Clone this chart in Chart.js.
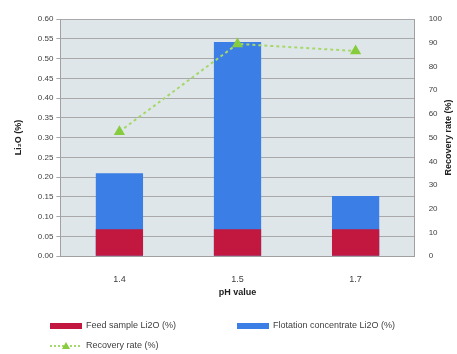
<!DOCTYPE html>
<html>
<head>
<meta charset="utf-8">
<script src="https://cdn.jsdelivr.net/npm/chart.js@4/dist/chart.umd.min.js"></script>
<style>
  html, body { margin: 0; padding: 0; background: #ffffff; }
  #wrap { position: relative; width: 457px; height: 354px; }
</style>
</head>
<body>
<div id="wrap"><canvas id="c" width="457" height="354"></canvas></div>
<script>
// pH values on the x axis
const phValues = ['1.4', '1.5', '1.7'];
// Li2O grade of the feed sample (%)
const feedLi2O = [0.068, 0.068, 0.068];
// Li2O grade of the flotation concentrate (%)
const concentrateLi2O = [0.21, 0.542, 0.152];
// Recovery rate (%)
const recoveryRate = [52.5, 89.5, 86.5];

const FONT = 'Liberation Sans';
const TEXT = '#404040';

// Light plot background behind the grid
const plotBackground = {
  id: 'plotBackground',
  beforeDraw(chart) {
    const { ctx, chartArea: a } = chart;
    ctx.save();
    ctx.fillStyle = '#dfe6e9';
    ctx.fillRect(a.left, a.top, a.right - a.left, a.bottom - a.top);
    ctx.restore();
  }
};

// x-axis title, secondary axis title (reads bottom to top) and the two-row legend
const extras = {
  id: 'extras',
  afterDraw(chart) {
    const { ctx, chartArea: a } = chart;
    const ds = chart.data.datasets;
    ctx.save();
    ctx.fillStyle = '#202020';
    ctx.font = 'bold 9px ' + FONT;
    ctx.textAlign = 'center';
    ctx.textBaseline = 'middle';
    ctx.fillText('pH value', (a.left + a.right) / 2, 293);
    ctx.translate(449, (a.top + a.bottom) / 2);
    ctx.rotate(-Math.PI / 2);
    ctx.fillText('Recovery rate (%)', 0, 0);
    ctx.restore();

    ctx.save();
    ctx.font = '9px ' + FONT;
    ctx.textBaseline = 'middle';
    ctx.fillStyle = TEXT;
    const items = [
      { ds: ds[0], x: 50, y: 326 },
      { ds: ds[1], x: 237, y: 326 },
      { ds: ds[2], x: 50, y: 346 }
    ];
    items.forEach(it => {
      const d = it.ds;
      if (d.type === 'line') {
        ctx.strokeStyle = d.borderColor;
        ctx.lineWidth = 2;
        ctx.setLineDash([2, 2]);
        ctx.beginPath();
        ctx.moveTo(it.x, it.y);
        ctx.lineTo(it.x + 32, it.y);
        ctx.stroke();
        ctx.setLineDash([]);
        ctx.fillStyle = d.pointBackgroundColor;
        const cx = it.x + 16, cy = it.y;
        ctx.beginPath();
        ctx.moveTo(cx, cy - 4);
        ctx.lineTo(cx + 4, cy + 3);
        ctx.lineTo(cx - 4, cy + 3);
        ctx.closePath();
        ctx.fill();
      } else {
        ctx.fillStyle = d.backgroundColor;
        ctx.fillRect(it.x, it.y - 3, 32, 6);
      }
      ctx.fillStyle = TEXT;
      ctx.fillText(d.label, it.x + 36, it.y);
    });
    ctx.restore();
  }
};

new Chart(document.getElementById('c'), {
  data: {
    labels: phValues,
    datasets: [
      {
        type: 'bar',
        label: 'Feed sample Li2O (%)',
        data: feedLi2O,
        backgroundColor: '#c2183f',
        yAxisID: 'y',
        categoryPercentage: 1,
        barPercentage: 0.4,
        order: 1
      },
      {
        type: 'bar',
        label: 'Flotation concentrate Li2O (%)',
        data: concentrateLi2O,
        backgroundColor: '#3b7ee6',
        yAxisID: 'y',
        categoryPercentage: 1,
        barPercentage: 0.4,
        order: 2
      },
      {
        type: 'line',
        label: 'Recovery rate (%)',
        data: recoveryRate,
        borderColor: '#a5d86a',
        borderWidth: 2,
        borderDash: [3, 3],
        pointStyle: 'triangle',
        pointRadius: 4.5,
        pointBackgroundColor: '#86cc3e',
        pointBorderColor: '#86cc3e',
        yAxisID: 'y1',
        order: 0
      }
    ]
  },
  options: {
    responsive: false,
    animation: false,
    layout: { padding: { left: 9, right: 9, top: 19, bottom: 59 } },
    plugins: { legend: { display: false }, tooltip: { enabled: false } },
    scales: {
      x: {
        stacked: true,
        grid: { display: false },
        border: { color: '#a0a0a0' },
        ticks: { color: TEXT, font: { family: FONT, size: 9 }, padding: 10 }
      },
      y: {
        position: 'left',
        stacked: false,
        min: 0,
        max: 0.6,
        grid: { color: '#a9a9a9', lineWidth: 1, tickLength: 4 },
        border: { color: '#a0a0a0' },
        ticks: { stepSize: 0.05, color: TEXT, font: { family: FONT, size: 8 }, callback: v => v.toFixed(2) },
        title: { display: true, text: 'Li\u2082O (%)', color: '#202020', font: { family: FONT, size: 9, weight: 'bold' }, padding: { top: 4, bottom: 11 } }
      },
      y1: {
        position: 'right',
        min: 0,
        max: 100,
        grid: { display: false },
        border: { color: '#a0a0a0' },
        ticks: { stepSize: 10, color: TEXT, font: { family: FONT, size: 8 }, padding: 6 }
      }
    }
  },
  plugins: [plotBackground, extras]
});
</script>
</body>
</html>
